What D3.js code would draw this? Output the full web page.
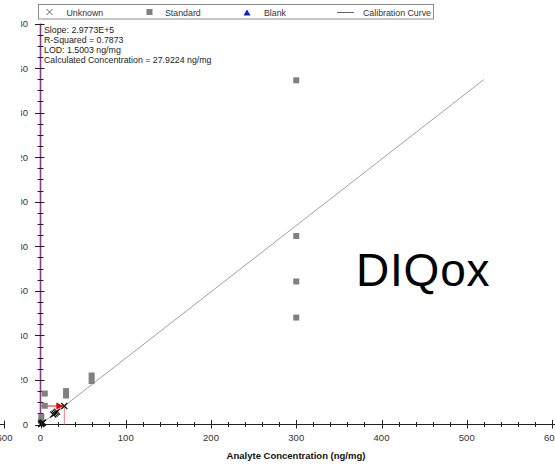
<!DOCTYPE html>
<html>
<head>
<meta charset="utf-8">
<script src="https://cdn.jsdelivr.net/npm/d3@7"></script>
<style>
  html, body { margin: 0; padding: 0; background: #fff; }
  svg { display: block; font-family: "Liberation Sans", Arial, sans-serif; }
</style>
</head>
<body>
<svg id="chart" width="555" height="468"></svg>
<script>
// Calibration standards: concentration (ng/mg) and response (x1e6)
const standardConc = [300, 300, 300, 300, 60, 60, 30, 30, 5, 5, 1, 0.5];
const standardResp = [154.5, 84.6, 64.2, 48.0, 22.0, 19.5, 15.0, 13.0, 13.9, 8.4, 3.5, 1.5];

// Unknown samples placed on the calibration curve
const unknownConc = [0.6, 1.2, 2.0, 3.0, 15.0, 16.5, 18.0, 19.5, 27.9224];
const unknownResp = [0.18, 0.36, 0.60, 0.89, 4.47, 4.91, 5.36, 5.81, 8.31];

// Calibration curve end points
const curveConc = [0, 520];
const curveResp = [0, 154.82];

// Calculated sample
const calcConc = 27.9224;
const calcResp = 8.31;

// Axis ticks
const xMajorTicks = [0, 100, 200, 300, 400, 500, 600];
const yMajorTicks = [0, 20, 40, 60, 80, 100, 120, 140, 160, 180];

const legendLabels = ["Unknown", "Standard", "Blank", "Calibration Curve"];
const infoLines = [
  "Slope: 2.9773E+5",
  "R-Squared = 0.7873",
  "LOD: 1.5003 ng/mg",
  "Calculated Concentration = 27.9224 ng/mg"
];

const svg = d3.select("#chart");
const x = d3.scaleLinear().domain([0, 600]).range([40.5, 552]);
const y = d3.scaleLinear().domain([0, 180]).range([424.5, 23.5]);

const defs = svg.append("defs");
defs.append("clipPath").attr("id", "ylabClip")
  .append("rect").attr("x", 21).attr("y", 0).attr("width", 40).attr("height", 468);
defs.append("marker").attr("id", "redArrow")
  .attr("viewBox", "0 0 10 10").attr("refX", 10).attr("refY", 5)
  .attr("markerWidth", 7).attr("markerHeight", 7).attr("orient", "auto")
  .attr("markerUnits", "userSpaceOnUse")
  .append("path").attr("d", "M0,0 L10,5 L0,10 Z").attr("fill", "#e00000");

// Neighbouring axis end at the far left
svg.append("line").attr("x1", -5).attr("x2", 4.5).attr("y1", 424.5).attr("y2", 424.5)
  .attr("stroke", "#222");
svg.append("line").attr("x1", 4.5).attr("x2", 4.5).attr("y1", 420.5).attr("y2", 428.5)
  .attr("stroke", "#222");
svg.append("text").attr("x", 4.5).attr("y", 441).attr("text-anchor", "middle")
  .attr("font-size", 9.5).attr("fill", "#333").text("600");

// X axis
const xAxis = svg.append("g");
xAxis.append("line").attr("x1", x(0)).attr("x2", 555).attr("y1", 424.5).attr("y2", 424.5)
  .attr("stroke", "#222");
xAxis.selectAll("line.minor").data(d3.range(20, 601, 20).filter(v => v % 100 !== 0))
  .join("line").attr("class", "minor")
  .attr("x1", d => Math.round(x(d)) + 0.5).attr("x2", d => Math.round(x(d)) + 0.5)
  .attr("y1", 422).attr("y2", 427).attr("stroke", "#222");
xAxis.selectAll("line.major").data(xMajorTicks)
  .join("line").attr("class", "major")
  .attr("x1", d => Math.round(x(d)) + 0.5).attr("x2", d => Math.round(x(d)) + 0.5)
  .attr("y1", 420).attr("y2", 428.5).attr("stroke", "#222");
xAxis.selectAll("text").data(xMajorTicks)
  .join("text").attr("x", d => x(d)).attr("y", 441)
  .attr("text-anchor", "middle").attr("font-size", 9.5).attr("fill", "#333")
  .text(d => d);
svg.append("text").attr("x", 296).attr("y", 459).attr("text-anchor", "middle")
  .attr("font-size", 9.5).attr("font-weight", "bold").attr("fill", "#111")
  .text("Analyte Concentration (ng/mg)");

// Y axis
const yAxis = svg.append("g");
yAxis.append("line").attr("x1", 40.5).attr("x2", 40.5).attr("y1", y(180)).attr("y2", y(0) + 2)
  .attr("stroke", "#8a3c8a").attr("stroke-width", 1.6);
yAxis.selectAll("line.minor").data(d3.range(5, 181, 5).filter(v => v % 20 !== 0))
  .join("line").attr("class", "minor")
  .attr("x1", 37.5).attr("x2", 43.5)
  .attr("y1", d => Math.round(y(d)) + 0.5).attr("y2", d => Math.round(y(d)) + 0.5)
  .attr("stroke", "#222");
yAxis.selectAll("line.major").data(yMajorTicks)
  .join("line").attr("class", "major")
  .attr("x1", 35).attr("x2", 44.5)
  .attr("y1", d => Math.round(y(d)) + 0.5).attr("y2", d => Math.round(y(d)) + 0.5)
  .attr("stroke", "#222");
yAxis.append("g").attr("clip-path", "url(#ylabClip)")
  .selectAll("text").data(yMajorTicks)
  .join("text").attr("x", 28).attr("y", d => y(d) + 3.5)
  .attr("text-anchor", "end").attr("font-size", 9.5).attr("fill", "#333")
  .text(d => d);

// Calibration curve
svg.append("line")
  .attr("x1", x(curveConc[0])).attr("y1", y(curveResp[0]))
  .attr("x2", x(curveConc[1])).attr("y2", y(curveResp[1]))
  .attr("stroke", "#a0a0a0").attr("stroke-width", 1);

// Calculated concentration guides
svg.append("line").attr("x1", x(calcConc)).attr("x2", x(calcConc))
  .attr("y1", y(calcResp)).attr("y2", y(0))
  .attr("stroke", "#f07a7a").attr("stroke-width", 1);
svg.append("line").attr("x1", x(0)).attr("x2", x(calcConc) - 1)
  .attr("y1", y(calcResp)).attr("y2", y(calcResp))
  .attr("stroke", "#ff3030").attr("stroke-width", 1.2)
  .attr("marker-end", "url(#redArrow)");

// Standards
svg.append("g").selectAll("rect").data(standardConc.map((c, i) => [c, standardResp[i]]))
  .join("rect")
  .attr("x", d => x(d[0]) - 3).attr("y", d => y(d[1]) - 3)
  .attr("width", 6).attr("height", 6).attr("fill", "#808080");

// Unknowns
const cross = (g, cx, cy, r, color, w) => {
  g.append("path")
    .attr("d", `M${cx - r},${cy - r}L${cx + r},${cy + r}M${cx - r},${cy + r}L${cx + r},${cy - r}`)
    .attr("stroke", color).attr("stroke-width", w).attr("fill", "none");
};
const unk = svg.append("g");
unknownConc.forEach((c, i) => cross(unk, x(c), y(unknownResp[i]), 3, "#111", 1.2));

// Legend
const lg = svg.append("g");
lg.append("rect").attr("x", 38.5).attr("y", 4.5).attr("width", 395).attr("height", 14.5)
  .attr("fill", "#fff").attr("stroke", "#8c8c8c");
cross(lg, 49.5, 12, 3, "#666", 1);
lg.append("rect").attr("x", 146.5).attr("y", 9).attr("width", 6).attr("height", 6).attr("fill", "#808080");
lg.append("path").attr("d", "M247,9.5 L250.5,15.5 L243.5,15.5 Z").attr("fill", "#0a1ecc");
lg.append("line").attr("x1", 337).attr("x2", 354).attr("y1", 12.5).attr("y2", 12.5)
  .attr("stroke", "#666");
const legendX = [66.5, 165, 264, 363];
lg.selectAll("text").data(legendLabels).join("text")
  .attr("x", (d, i) => legendX[i]).attr("y", 15.5)
  .attr("font-size", 8.8).attr("fill", "#333").text(d => d);

// Fit information
svg.append("g").selectAll("text").data(infoLines).join("text")
  .attr("x", 44).attr("y", (d, i) => 32.5 + i * 10)
  .attr("font-size", 8.8).attr("fill", "#222").text(d => d);

// Compound name
svg.append("text").attr("x", 356).attr("y", 286)
  .attr("font-size", 46).attr("fill", "#000").attr("letter-spacing", 0.8)
  .text("DIQox");
</script>
</body>
</html>
